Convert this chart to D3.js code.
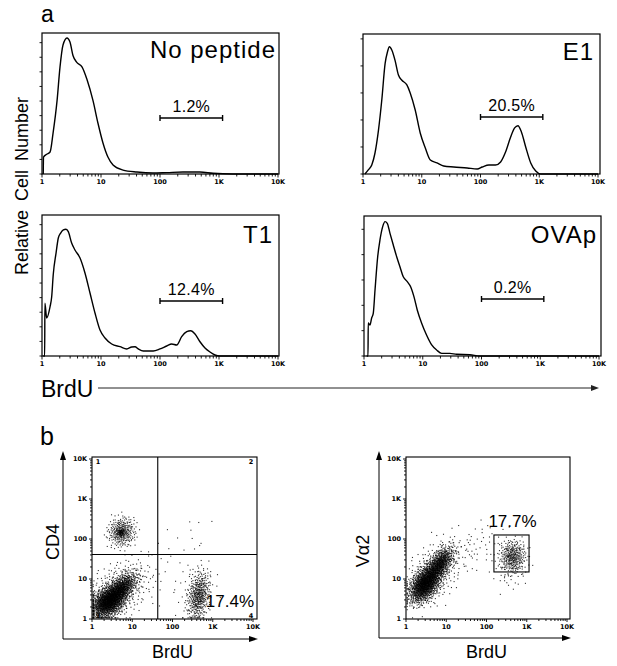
<!DOCTYPE html>
<html><head><meta charset="utf-8">
<script src="https://cdn.jsdelivr.net/npm/d3@7"></script>
<style>
body{margin:0;background:#fff}
text{font-family:"Liberation Sans",Arial,Helvetica,sans-serif;fill:#000}
.tk{font-family:"DejaVu Sans",sans-serif;font-weight:bold;font-size:6.5px}
</style>
</head><body>
<svg id="c" width="617" height="666"></svg>
<script>
// ================= DATA =================
// Histograms: BrdU intensity vs relative cell number (% of full scale)
const noPeptideBrdU  = [1.05,1.06,1.2,1.37,1.54,1.80,2.02,2.27,2.65,2.98,3.35,3.92,4.76,5.79,7.32,8.89,10.8,13.1,16.0,23.6,40.8,75.9,130,245,475,792,1700,10000];
const noPeptideCount = [0,12,14,15.6,29,52,76,91.5,96.5,93.6,84,79,76,67,52,36,22,12,6.4,2.8,1.4,0.7,1.0,1.4,1.4,0.5,0,0];

const e1BrdU  = [1.08,1.23,1.41,1.60,1.83,2.09,2.38,2.60,2.82,3.09,3.52,4.01,4.59,5.58,6.36,7.74,9.42,11.5,14.0,18.2,23.6,35,59.3,87.9,107,139,180,220,267,326,381,434,497,588,716,871,1060,10000];
const e1Count = [0,2.9,6.4,15,31,53,79,87,90.9,88.6,81,70.7,67,63.6,57.9,45.7,29.3,18.6,10,7.9,5.7,5,4.3,3.6,5,6.4,6.4,8.6,15.7,26.4,32.9,34.5,30,19.3,7.9,2.1,0,0];

const t1BrdU  = [1.05,1.11,1.12,1.20,1.37,1.46,1.55,1.73,1.89,2.07,2.30,2.55,2.79,3.18,3.62,4.41,5.35,6.51,7.91,9.62,11.7,15.2,21.0,27.3,33.1,37.7,42.9,52.1,76.9,100,130,158,192,233,284,331,392,476,579,704,855,1040,10000];
const t1Count = [0,0,37.4,27,35,42,57.6,73,83.7,87.2,89.4,89.9,88.2,80.1,75.2,69.5,58.9,44.7,30.5,18.4,12.8,8.5,6.6,5,6.4,6.6,5,3.5,3.5,5,7.1,8.5,7.8,13.7,17.2,17.9,15.6,10.1,5.7,2.8,0.7,0,0];

const ovapBrdU  = [1.11,1.17,1.18,1.26,1.35,1.44,1.54,1.71,1.87,2.08,2.28,2.49,2.77,3.15,3.60,4.09,4.66,5.45,6.22,7.08,8.06,9.58,11.6,14.2,17.2,21,29,37.7,63.5,94,10000];
const ovapCount = [0,0,23.6,22.1,27.1,30.7,47.1,70.9,82.9,92.4,96,94.8,87.6,79.3,70.9,63.8,56.6,53.1,49.5,42.4,32.9,23.4,15,7.9,4.3,1.9,1.9,1.2,0.9,0,0];

const histTitles   = ["No peptide","E1","T1","OVAp"];
const gatePercents = ["1.2%","20.5%","12.4%","0.2%"];
const gateBounds   = [100, 1150];
const yTickSteps   = [10.35,19.3,10.35,18.1];
const xTickValues  = [1,10,100,1000,10000];
const xTickLabels  = ["1","10","100","1K","10K"];

// Dot plots: event clouds (centre in intensity units, spread in decades, angle in degrees, event count)
const cd4Clusters = [
  {cx:2.6, cy:2.7, major:0.24, minor:0.16, angle:40, n:1300},
  {cx:5.4, cy:5.8, major:0.24, minor:0.12, angle:45, n:600},
  {cx:4.5, cy:5.0, major:0.45, minor:0.30, angle:45, n:380},
  {cx:5.5, cy:150, major:0.19, minor:0.17, angle:70, n:300},
  {cx:5.3, cy:145, major:0.05, minor:0.05, angle:0,  n:50},
  {cx:450, cy:3.8, major:0.30, minor:0.13, angle:82, n:380},
  {cx:400, cy:4.2, major:0.45, minor:0.25, angle:80, n:80},
  {cx:40,  cy:15,  major:0.70, minor:0.45, angle:30, n:40},
  {cx:400, cy:150, major:0.30, minor:0.25, angle:0,  n:6}
];
const va2Clusters = [
  {cx:3.0, cy:7.5, major:0.26, minor:0.15, angle:55, n:1300},
  {cx:7.0, cy:24,  major:0.24, minor:0.12, angle:55, n:600},
  {cx:5.0, cy:14,  major:0.48, minor:0.28, angle:55, n:320},
  {cx:450, cy:36,  major:0.20, minor:0.16, angle:90, n:280},
  {cx:430, cy:26,  major:0.35, minor:0.22, angle:80, n:90},
  {cx:50,  cy:60,  major:0.45, minor:0.30, angle:30, n:60}
];
const cd4Quadrant = [43, 41];
const cd4Percent = "17.4%";
const va2Gate = {x:[153,1140], y:[15,126]};
const va2Percent = "17.7%";
const quadrantNumbers = ["1","2","3","4"];

// ================= DRAW =================
const svg = d3.select("#c");
const logTicks = [];
for (let d=0; d<4; d++) for (let k=1; k<10; k++) logTicks.push(k*Math.pow(10,d));
logTicks.push(10000);

const histData = [
  d3.zip(noPeptideBrdU, noPeptideCount),
  d3.zip(e1BrdU, e1Count),
  d3.zip(t1BrdU, t1Count),
  d3.zip(ovapBrdU, ovapCount)
];
const histLayout = [
  {x0:42,  x1:278, fr:279, top:33,  bottom:174, gateY:118, tx:276, ty:58},
  {x0:363, x1:598, fr:600, top:34,  bottom:174, gateY:117, tx:594, ty:60},
  {x0:42,  x1:278, fr:279, top:215, bottom:356, gateY:301, tx:273, ty:243},
  {x0:364, x1:599, fr:601, top:216, bottom:356, gateY:299, tx:597, ty:243}
];

histLayout.forEach((L,i)=>{
  const g = svg.append("g");
  const x = d3.scaleLog().domain([1,10000]).range([L.x0, L.x1]);
  const y = d3.scaleLinear().domain([0,100]).range([L.bottom, L.top]);
  g.append("rect").attr("x",L.x0).attr("y",L.top).attr("width",L.fr-L.x0).attr("height",L.bottom-L.top)
    .attr("fill","none").attr("stroke","#000").attr("stroke-width",1.2);
  g.selectAll(".xt").data(logTicks).join("line")
    .attr("x1",d=>x(d)).attr("x2",d=>x(d)).attr("y1",L.bottom).attr("y2",d=>L.bottom+(xTickValues.includes(d)?3.5:2.5))
    .attr("stroke","#000").attr("stroke-width",0.9);
  g.selectAll(".xl").data(xTickValues).join("text").attr("class","tk")
    .attr("x",d=>x(d)).attr("y",L.bottom+9.5).attr("text-anchor","middle").text((d,j)=>xTickLabels[j]);
  const yt = d3.range(0, 100.01, yTickSteps[i]);
  g.selectAll(".yt").data(yt).join("line")
    .attr("x1",L.x0-2.5).attr("x2",L.x0).attr("y1",d=>y(d)).attr("y2",d=>y(d))
    .attr("stroke","#000").attr("stroke-width",0.9);
  const line = d3.line().x(d=>x(d[0])).y(d=>y(d[1])).curve(d3.curveMonotoneX);
  g.append("path").attr("d",line(histData[i])).attr("fill","none").attr("stroke","#000").attr("stroke-width",1.4);
  const gx0 = x(gateBounds[0]), gx1 = x(gateBounds[1]);
  g.append("line").attr("x1",gx0).attr("x2",gx1).attr("y1",L.gateY).attr("y2",L.gateY).attr("stroke","#000").attr("stroke-width",1.4);
  [gx0,gx1].forEach(v=>g.append("line").attr("x1",v).attr("x2",v).attr("y1",L.gateY-3).attr("y2",L.gateY+3).attr("stroke","#000").attr("stroke-width",1.4));
  g.append("text").attr("x",(gx0+gx1)/2).attr("y",L.gateY-6).attr("text-anchor","middle")
    .style("font-size","16px").style("letter-spacing","0.3px").text(gatePercents[i]);
  g.append("text").attr("x",L.tx).attr("y",L.ty).attr("text-anchor","end")
    .style("font-size","24px").style("letter-spacing","1px").text(histTitles[i]);
});

svg.append("text").attr("x",41).attr("y",22).style("font-size","23px").text("a");
svg.append("text").attr("x",40).attr("y",445).style("font-size","25px").text("b");
svg.append("text").attr("transform","translate(28,186) rotate(-90)").attr("text-anchor","middle")
  .style("font-size","18px").style("word-spacing","4px").text("Relative Cell Number");
svg.append("text").attr("x",41).attr("y",397).style("font-size","23px").text("BrdU");
svg.append("line").attr("x1",98).attr("x2",594).attr("y1",388).attr("y2",388).attr("stroke","#222").attr("stroke-width",1);
svg.append("path").attr("d","M599,388 L591,385 L591,391 Z").attr("fill","#222");

// ---------- dot plots ----------
function halton(i,b){ let f=1, r=0; while(i>0){ f/=b; r+=f*(i%b); i=Math.floor(i/b);} return r; }
function cloud(c){
  const pts=[], a=c.angle*Math.PI/180;
  const lx=Math.log10(c.cx), ly=Math.log10(c.cy);
  const cl=v=>Math.max(0.03,Math.min(3.97,v));
  for(let i=1;i<=c.n;i++){
    const u=halton(i,2)*0.985, r=Math.sqrt(-2*Math.log(1-u)), t=2*Math.PI*halton(i,3);
    const p=r*Math.cos(t)*c.major, q=r*Math.sin(t)*c.minor;
    pts.push([Math.pow(10,cl(lx+p*Math.cos(a)-q*Math.sin(a))), Math.pow(10,cl(ly+p*Math.sin(a)+q*Math.cos(a)))]);
  }
  return pts;
}

function dotPlot(S){
  const g = svg.append("g");
  const x = d3.scaleLog().domain([1,10000]).range([S.x0,S.x1]);
  const y = d3.scaleLog().domain([1,10000]).range([S.y0,S.y1]);
  const pts = S.clusters.flatMap(cloud);
  g.selectAll(".dot").data(pts).join("rect")
    .attr("x",d=>x(d[0])-0.55).attr("y",d=>y(d[1])-0.55).attr("width",1.1).attr("height",1.1)
    .attr("fill","#000").attr("fill-opacity",0.8);
  g.append("rect").attr("x",S.x0).attr("y",S.top).attr("width",S.fr-S.x0).attr("height",S.y0-S.top)
    .attr("fill","none").attr("stroke","#000").attr("stroke-width",1.1);
  g.selectAll(".xt").data(logTicks).join("line")
    .attr("x1",d=>x(d)).attr("x2",d=>x(d)).attr("y1",S.y0).attr("y2",d=>S.y0+(xTickValues.includes(d)?3:2))
    .attr("stroke","#000").attr("stroke-width",0.9);
  g.selectAll(".yt").data(logTicks).join("line")
    .attr("y1",d=>y(d)).attr("y2",d=>y(d)).attr("x1",d=>S.x0-(xTickValues.includes(d)?3:2)).attr("x2",S.x0)
    .attr("stroke","#000").attr("stroke-width",0.9);
  g.selectAll(".xl").data(xTickValues).join("text").attr("class","tk")
    .attr("x",d=>x(d)).attr("y",S.y0+10).attr("text-anchor","middle").text((d,j)=>xTickLabels[j]);
  g.selectAll(".yl").data(xTickValues).join("text").attr("class","tk")
    .attr("x",S.x0-5).attr("y",d=>y(d)+2).attr("text-anchor","end").text((d,j)=>xTickLabels[j]);
  g.append("line").attr("x1",S.ax).attr("x2",S.ax).attr("y1",S.ay).attr("y2",S.y1-1).attr("stroke","#000").attr("stroke-width",1);
  g.append("path").attr("d",`M${S.ax},${S.y1-8} L${S.ax-3},${S.y1+1} L${S.ax+3},${S.y1+1} Z`);
  g.append("line").attr("x1",S.ax).attr("x2",S.fr-2).attr("y1",S.ay).attr("y2",S.ay).attr("stroke","#000").attr("stroke-width",1);
  g.append("path").attr("d",`M${S.fr+1},${S.ay} L${S.fr-8},${S.ay-3} L${S.fr-8},${S.ay+3} Z`);
  g.append("text").attr("transform",`translate(${S.ylx},${S.yly}) rotate(-90)`).attr("text-anchor","middle")
    .style("font-size","18px").text(S.ylabel);
  g.append("text").attr("x",(S.x0+S.x1)/2).attr("y",658).attr("text-anchor","middle").style("font-size","18px").text("BrdU");
  return {g,x,y};
}

const p1 = dotPlot({clusters:cd4Clusters, x0:92, x1:253, fr:257, y0:619, y1:459, top:457, ax:63, ay:639, ylx:59, yly:542, ylabel:"CD4"});
p1.g.append("line").attr("x1",p1.x(cd4Quadrant[0])).attr("x2",p1.x(cd4Quadrant[0])).attr("y1",457).attr("y2",619).attr("stroke","#000").attr("stroke-width",1.1);
p1.g.append("line").attr("y1",p1.y(cd4Quadrant[1])).attr("y2",p1.y(cd4Quadrant[1])).attr("x1",92).attr("x2",257).attr("stroke","#000").attr("stroke-width",1.1);
[[98,464],[251,464],[98,618],[251,618]].forEach((q,k)=>p1.g.append("text").attr("class","tk").attr("x",q[0]).attr("y",q[1]).attr("text-anchor","middle").text(quadrantNumbers[k]));
p1.g.append("text").attr("x",254).attr("y",607).attr("text-anchor","end").style("font-size","17px").text(cd4Percent);

const p2 = dotPlot({clusters:va2Clusters, x0:406, x1:567, fr:570, y0:619, y1:459, top:457, ax:379, ay:638, ylx:369, yly:551, ylabel:"Vα2"});
p2.g.append("rect").attr("x",p2.x(va2Gate.x[0])).attr("y",p2.y(va2Gate.y[1]))
  .attr("width",p2.x(va2Gate.x[1])-p2.x(va2Gate.x[0])).attr("height",p2.y(va2Gate.y[0])-p2.y(va2Gate.y[1]))
  .attr("fill","none").attr("stroke","#000").attr("stroke-width",1.1);
p2.g.append("text").attr("x",(p2.x(va2Gate.x[0])+p2.x(va2Gate.x[1]))/2+1).attr("y",527).attr("text-anchor","middle").style("font-size","17px").text(va2Percent);
</script>
</body></html>
